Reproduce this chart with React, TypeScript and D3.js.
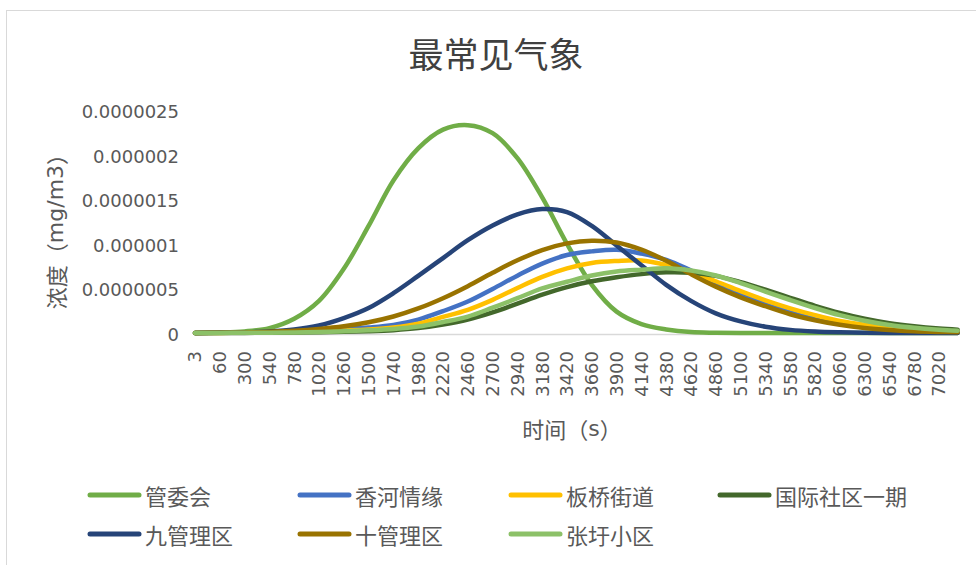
import React from "react";
import * as d3 from "d3";

// Sampling times (s) of the concentration series; the last sample closes the curves
const times = [
  3, 60, 300, 540, 780, 1020, 1260, 1500, 1740, 1980, 2220, 2460, 2700, 2940,
  3180, 3420, 3660, 3900, 4140, 4380, 4620, 4860, 5100, 5340, 5580, 5820,
  6060, 6300, 6540, 6780, 7020, 7200,
];

const xTickLabels = [
  "3", "60", "300", "540", "780", "1020", "1260", "1500", "1740", "1980",
  "2220", "2460", "2700", "2940", "3180", "3420", "3660", "3900", "4140",
  "4380", "4620", "4860", "5100", "5340", "5580", "5820", "6060", "6300",
  "6540", "6780", "7020",
];

const yTickValues = [0, 0.0000005, 0.000001, 0.0000015, 0.000002, 0.0000025];
const yTickLabels = ["0", "0.0000005", "0.000001", "0.0000015", "0.000002", "0.0000025"];

// Concentrations in units of 1e-6 mg/m3
const guanweihui = [
  0, 0.005, 0.018, 0.055, 0.16, 0.36, 0.72, 1.2, 1.71, 2.07, 2.28, 2.33, 2.24,
  1.96, 1.52, 1.0, 0.54, 0.24, 0.1, 0.04, 0.01, 0.003, 0, 0, 0, 0, 0, 0, 0, 0,
  0, 0,
];
const xiangheqingyuan = [
  0, 0.002, 0.005, 0.01, 0.018, 0.03, 0.045, 0.062, 0.09, 0.15, 0.245, 0.353,
  0.494, 0.643, 0.778, 0.874, 0.915, 0.933, 0.89, 0.82, 0.7, 0.564, 0.43, 0.32,
  0.232, 0.16, 0.11, 0.075, 0.05, 0.032, 0.02, 0.014,
];
const banqiaojiedao = [
  0, 0.001, 0.003, 0.006, 0.011, 0.018, 0.028, 0.04, 0.062, 0.105, 0.18, 0.26,
  0.372, 0.505, 0.63, 0.725, 0.785, 0.807, 0.813, 0.763, 0.684, 0.58, 0.47,
  0.367, 0.277, 0.2, 0.135, 0.094, 0.065, 0.044, 0.028, 0.019,
];
const guojishequ = [
  0, 0.0005, 0.001, 0.003, 0.005, 0.008, 0.013, 0.02, 0.032, 0.055, 0.095, 0.15,
  0.23, 0.33, 0.43, 0.515, 0.58, 0.625, 0.66, 0.68, 0.675, 0.64, 0.57, 0.485,
  0.395, 0.305, 0.225, 0.16, 0.11, 0.075, 0.05, 0.037,
];
const jiuguanliqu = [
  0, 0.003, 0.008, 0.018, 0.04, 0.084, 0.167, 0.28, 0.446, 0.64, 0.84, 1.04,
  1.205, 1.33, 1.39, 1.355, 1.2, 0.98, 0.76, 0.54, 0.36, 0.22, 0.13, 0.07,
  0.035, 0.017, 0.008, 0.003, 0.001, 0, 0, 0,
];
const shiguanliqu = [
  0, 0.003, 0.007, 0.013, 0.025, 0.045, 0.075, 0.12, 0.185, 0.275, 0.39, 0.525,
  0.675, 0.815, 0.93, 1.005, 1.035, 1.015, 0.935, 0.81, 0.66, 0.52, 0.4, 0.3,
  0.21, 0.143, 0.092, 0.056, 0.034, 0.02, 0.012, 0.008,
];
const zhangyuxiaoqu = [
  0, 0.001, 0.002, 0.004, 0.007, 0.012, 0.02, 0.03, 0.045, 0.072, 0.123, 0.184,
  0.284, 0.39, 0.5, 0.575, 0.645, 0.69, 0.71, 0.725, 0.7, 0.645, 0.56, 0.465,
  0.37, 0.28, 0.2, 0.138, 0.09, 0.058, 0.036, 0.024,
];

const seriesNames = ["管委会", "香河情缘", "板桥街道", "国际社区一期", "九管理区", "十管理区", "张圩小区"];
const seriesColors = ["#70AD47", "#4472C4", "#FFC000", "#43682B", "#264478", "#997300", "#8CC168"];
const seriesValues = [
  guanweihui, xiangheqingyuan, banqiaojiedao, guojishequ, jiuguanliqu, shiguanliqu, zhangyuxiaoqu,
];

const W = 976;
const H = 565;
const TEXT = "#595959";
const LATIN = "'DejaVu Sans', 'Noto Sans CJK SC', sans-serif";
const CJK = "'Noto Sans CJK SC', 'DejaVu Sans', sans-serif";

export default function App() {
  const left = 195;
  const step = 24.8;
  // Category axis: 3 s and 60 s take one slot, then each slot covers 240 s
  const x = d3
    .scaleLinear()
    .domain([3, 60, 7260])
    .range([left, left + step, left + 31 * step]);
  const y = d3.scaleLinear().domain([0, 0.0000025]).range([333, 110]);

  const line = d3
    .line<number>()
    .x((_, i) => x(times[i]))
    .y((v) => y(v * 1e-6))
    .curve(d3.curveCatmullRom.alpha(0.5));

  const axisY = y(0) + 1.5;
  const xEnd = x(times[times.length - 1]);

  const legendCols = [88, 298, 509, 718];
  const legendRows = [495, 534];

  return (
    <>
      <style>{"body{margin:0;}"}</style>
      <svg width={W} height={H} style={{ display: "block", background: "#fff" }}>
        {/* chart frame */}
        <rect x={6.5} y={10.5} width={W + 10} height={H + 10} fill="#fff" stroke="#d9d9d9" strokeWidth={1} />

        {/* title */}
        <text x={496} y={52} textAnchor="middle" dominantBaseline="central" fontFamily={CJK} fontSize={35} fill="#404040">
          最常见气象
        </text>

        {/* y tick labels */}
        {yTickValues.map((v, i) => (
          <text
            key={"yt" + i}
            x={179}
            y={y(v) + 1.5}
            textAnchor="end"
            dominantBaseline="central"
            fontFamily={LATIN}
            fontSize={18}
            fill={TEXT}
          >
            {yTickLabels[i]}
          </text>
        ))}

        {/* y axis title */}
        <text
          transform={`translate(55,226) rotate(-90)`}
          textAnchor="middle"
          dominantBaseline="central"
          fontFamily={LATIN}
          fontSize={22}
          fill={TEXT}
        >
          <tspan fontFamily={CJK}>浓度（</tspan>
          <tspan>mg/m3</tspan>
          <tspan fontFamily={CJK}>）</tspan>
        </text>

        {/* x axis line */}
        <line x1={x(times[0])} x2={xEnd} y1={axisY} y2={axisY} stroke="#d9d9d9" strokeWidth={1.5} />

        {/* x tick labels */}
        {xTickLabels.map((t, i) => (
          <text
            key={"xt" + i}
            transform={`translate(${x(+t)},351) rotate(-90)`}
            textAnchor="end"
            dy="0.36em"
            fontFamily={LATIN}
            fontSize={18}
            fill={TEXT}
          >
            {t}
          </text>
        ))}

        {/* x axis title */}
        <text x={572} y={428} textAnchor="middle" dominantBaseline="central" fontFamily={LATIN} fontSize={22} fill={TEXT}>
          <tspan fontFamily={CJK}>时间（</tspan>
          <tspan>s</tspan>
          <tspan fontFamily={CJK}>）</tspan>
        </text>

        {/* series */}
        {seriesValues.map((vals, s) => (
          <path
            key={"s" + s}
            d={line(vals) || ""}
            fill="none"
            stroke={seriesColors[s]}
            strokeWidth={4.5}
            strokeLinecap="round"
            strokeLinejoin="round"
          />
        ))}

        {/* legend */}
        {seriesNames.map((name, s) => {
          const lx = legendCols[s % 4];
          const ly = legendRows[Math.floor(s / 4)];
          return (
            <g key={"lg" + s}>
              <line x1={lx + 2} x2={lx + 51} y1={ly} y2={ly} stroke={seriesColors[s]} strokeWidth={5} strokeLinecap="round" />
              <text x={lx + 57} y={ly} dominantBaseline="central" fontFamily={CJK} fontSize={22} fill={TEXT}>
                {name}
              </text>
            </g>
          );
        })}
      </svg>
    </>
  );
}
